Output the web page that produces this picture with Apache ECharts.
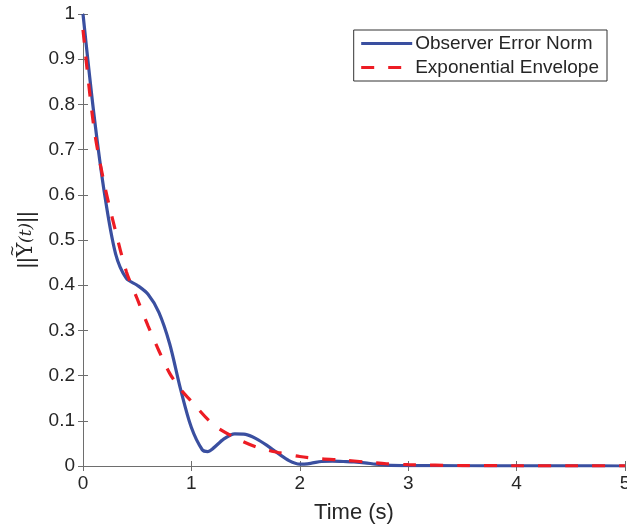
<!DOCTYPE html>
<html>
<head>
<meta charset="utf-8">
<script src="https://cdn.jsdelivr.net/npm/echarts@6/dist/echarts.min.js"></script>
<style>
  html, body { margin: 0; padding: 0; background: #fff; }
  #chart { width: 627px; height: 527px; }
</style>
</head>
<body>
<div id="chart"></div>
<script>
// observer error norm
var normTime = [0, 0.1, 0.2, 0.3, 0.4, 0.5, 0.6, 0.7, 0.8, 0.9, 1.0, 1.1, 1.15, 1.2, 1.3, 1.4, 1.5, 1.6, 1.7, 1.8, 1.9, 2.0, 2.1, 2.2, 2.3, 2.4, 2.5, 2.6, 2.7, 2.8, 3.0, 3.5, 4.0, 4.5, 5.0];
var normValue = [1.0, 0.78, 0.60, 0.47, 0.415, 0.40, 0.38, 0.34, 0.27, 0.17, 0.085, 0.036, 0.032, 0.039, 0.06, 0.071, 0.07, 0.06, 0.045, 0.028, 0.012, 0.004, 0.006, 0.010, 0.011, 0.010, 0.009, 0.007, 0.004, 0.002, 0.001, 0.0005, 0.0002, 0.0001, 0];

// exponential envelope
var envTime = [0, 0.1, 0.2, 0.3, 0.4, 0.5, 0.6, 0.7, 0.8, 0.9, 1.0, 1.2, 1.4, 1.6, 1.8, 2.0, 2.2, 2.4, 2.6, 2.8, 3.0, 3.5, 4.0, 4.5, 5.0];
var envValue = [0.965, 0.75, 0.62, 0.52, 0.43, 0.37, 0.31, 0.255, 0.205, 0.17, 0.143, 0.092, 0.063, 0.042, 0.03, 0.021, 0.016, 0.013, 0.009, 0.005, 0.003, 0.001, 0.0005, 0.0002, 0.0001];

function pairs(xs, ys) {
    var out = [];
    for (let i = 0; i < xs.length; i++) {
        out.push([xs[i], ys[i]]);
    }
    return out;
}

var axisColor = '#6e6e6e';
var textColor = '#262626';
var font = 'Liberation Sans, Arial, sans-serif';
var serif = 'DejaVu Serif, serif';

var myChart = echarts.init(document.getElementById('chart'));
myChart.setOption({
    animation: false,
    grid: {
        left: 83,
        right: 2,
        top: 14,
        bottom: 61,
        // keep the plot box fixed even if the axis names reach the edge
        outerBoundsMode: 'none'
    },
    legend: {
        right: 20,
        top: 30,
        orient: 'vertical',
        backgroundColor: '#fff',
        borderColor: '#333',
        borderWidth: 1,
        borderRadius: 0,
        padding: [4, 8, 4, 6],
        itemGap: 5,
        itemWidth: 51,
        itemHeight: 20,
        itemStyle: { opacity: 0 },
        lineStyle: { width: 3 },
        textStyle: {
            fontFamily: font,
            fontSize: 19,
            color: textColor,
            padding: [0, 0, 0, -2]
        },
        data: ['Observer Error Norm', 'Exponential Envelope']
    },
    xAxis: [{
        type: 'value',
        min: 0,
        max: 5,
        interval: 1,
        name: 'Time (s)',
        nameLocation: 'middle',
        nameGap: 36,
        nameTextStyle: { fontFamily: font, fontSize: 22, color: textColor },
        axisLine: { show: true, lineStyle: { color: axisColor } },
        axisTick: { show: true, inside: true, length: 5, lineStyle: { color: axisColor } },
        axisLabel: { fontFamily: font, fontSize: 19, color: textColor, margin: 8 },
        splitLine: { show: false }
    }, {
        type: 'value',
        position: 'top',
        min: 0,
        max: 5,
        interval: 1,
        axisLine: { show: true, lineStyle: { color: axisColor } },
        axisTick: { show: true, inside: true, length: 5, lineStyle: { color: axisColor } },
        axisLabel: { show: false },
        splitLine: { show: false }
    }],
    yAxis: [{
        type: 'value',
        min: 0,
        max: 1,
        interval: 0.1,
        // upsilon with a tilde pulled back over it by negative padding
        name: '{n|||}{u|\u03A5}{w|~}{t|(t)}{n|||}',
        nameLocation: 'middle',
        nameGap: 41,
        nameRotate: 90,
        nameTextStyle: {
            fontFamily: serif,
            fontSize: 22,
            color: textColor,
            rich: {
                n: { fontFamily: font, fontSize: 22, color: textColor },
                u: { fontFamily: serif, fontSize: 22, color: textColor },
                w: { fontFamily: serif, fontSize: 14, color: textColor, padding: [-13, 2, 13, -14] },
                t: { fontFamily: serif, fontSize: 17, fontStyle: 'italic', color: textColor }
            }
        },
        axisLine: { show: true, lineStyle: { color: axisColor } },
        axisTick: { show: true, inside: true, length: 5, lineStyle: { color: axisColor } },
        axisLabel: { fontFamily: font, fontSize: 19, color: textColor, margin: 8 },
        splitLine: { show: false }
    }, {
        type: 'value',
        position: 'right',
        min: 0,
        max: 1,
        interval: 0.1,
        axisLine: { show: true, lineStyle: { color: axisColor } },
        axisTick: { show: true, inside: true, length: 5, lineStyle: { color: axisColor } },
        axisLabel: { show: false },
        splitLine: { show: false }
    }],
    series: [{
        name: 'Observer Error Norm',
        type: 'line',
        smooth: 0.3,
        showSymbol: false,
        symbol: 'none',
        color: '#3a4fa0',
        lineStyle: { width: 3.2, color: '#3a4fa0' },
        data: pairs(normTime, normValue),
        z: 2
    }, {
        name: 'Exponential Envelope',
        type: 'line',
        smooth: 0.3,
        showSymbol: false,
        symbol: 'none',
        color: '#ed1c24',
        lineStyle: { width: 3.2, color: '#ed1c24', type: [13, 14] },
        data: pairs(envTime, envValue),
        z: 3
    }]
});
</script>
</body>
</html>
